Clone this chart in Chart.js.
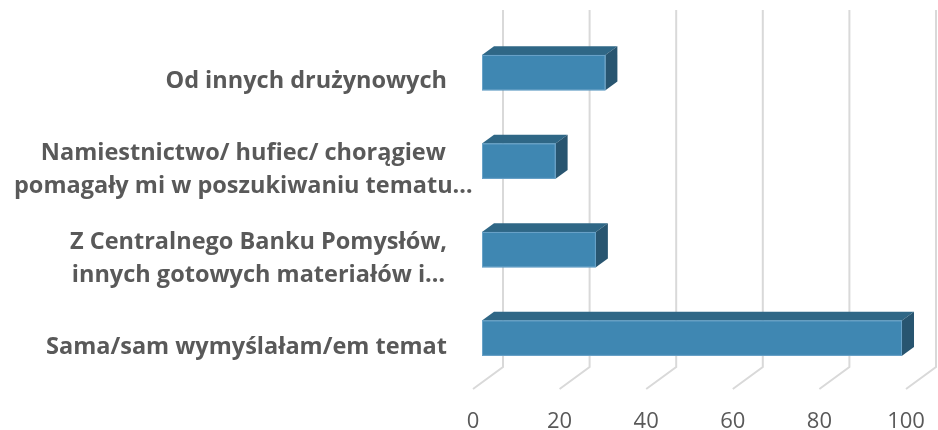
<!DOCTYPE html>
<html>
<head>
<meta charset="utf-8">
<script src="https://cdn.jsdelivr.net/npm/chart.js@4"></script>
<style>
  html, body { margin: 0; padding: 0; background: #ffffff; }
  #wrap { width: 938px; height: 430px; position: relative; }
</style>
</head>
<body>
<div id="wrap"><canvas id="chart"></canvas></div>
<script>
// Categories (top to bottom) and their values
const categories = [
  ['Od innych drużynowych'],
  ['Namiestnictwo/ hufiec/ chorągiew', 'pomagały mi w poszukiwaniu tematu…'],
  ['Z Centralnego Banku Pomysłów,', 'innych gotowych materiałów i…'],
  ['Sama/sam wymyślałam/em temat']
];
const values = [28.5, 17, 26.3, 97];
const tickValues = [0, 20, 40, 60, 80, 100];

// Oblique depth of the 3D box (front of floor -> back wall)
const DEPTH_X = 30, DEPTH_Y = -22;
const BAR_FRONT = 0.3, BAR_BACK = 0.7;

const COL_FRONT = '#3f87b2';
const COL_TOP = '#2f6786';
const COL_SIDE = '#285570';
const COL_EDGE = '#6aa3c8';
const COL_GRID = '#d9d9d9';
const TEXT = '#595959';
const LABEL_FONT = 'bold 23.5px "Open Sans", "Liberation Sans", sans-serif';

const box3d = {
  id: 'box3d',
  beforeDatasetsDraw(chart) {
    const { ctx, chartArea, scales } = chart;
    const xs = scales.x;
    ctx.save();
    ctx.strokeStyle = COL_GRID;
    ctx.lineWidth = 2;
    // back wall verticals + floor diagonals
    tickValues.forEach(v => {
      const px = xs.getPixelForValue(v);
      ctx.beginPath();
      ctx.moveTo(px + DEPTH_X, chartArea.top - 25);
      ctx.lineTo(px + DEPTH_X, chartArea.bottom + DEPTH_Y);
      ctx.lineTo(px, chartArea.bottom);
      ctx.stroke();
    });
    ctx.restore();
  },
  afterDatasetsDraw(chart) {
    const { ctx } = chart;
    const meta = chart.getDatasetMeta(0);
    const fx = DEPTH_X * BAR_FRONT, fy = DEPTH_Y * BAR_FRONT;
    const dx = DEPTH_X * (BAR_BACK - BAR_FRONT), dy = DEPTH_Y * (BAR_BACK - BAR_FRONT);
    ctx.save();
    meta.data.forEach(el => {
      const p = el.getProps(['x', 'y', 'base', 'height'], true);
      const l = p.base + fx, r = p.x + fx;
      const t = p.y - p.height / 2 + fy, b = p.y + p.height / 2 + fy;
      // top face
      ctx.fillStyle = COL_TOP;
      ctx.beginPath();
      ctx.moveTo(l, t); ctx.lineTo(l + dx, t + dy); ctx.lineTo(r + dx, t + dy); ctx.lineTo(r, t);
      ctx.closePath(); ctx.fill();
      // side face
      ctx.fillStyle = COL_SIDE;
      ctx.beginPath();
      ctx.moveTo(r, t); ctx.lineTo(r + dx, t + dy); ctx.lineTo(r + dx, b + dy); ctx.lineTo(r, b);
      ctx.closePath(); ctx.fill();
      // front face
      ctx.fillStyle = COL_FRONT;
      ctx.fillRect(l, t, r - l, b - t);
      ctx.strokeStyle = COL_EDGE;
      ctx.lineWidth = 1;
      ctx.strokeRect(l + 0.5, t + 0.5, r - l - 1, b - t - 1);
    });
    ctx.restore();
  },
  afterDraw(chart) {
    // category labels: block right-aligned, lines centred within the block
    const { ctx, scales } = chart;
    const ys = scales.y;
    ctx.save();
    ctx.font = LABEL_FONT;
    ctx.fillStyle = TEXT;
    ctx.textAlign = 'center';
    ctx.textBaseline = 'middle';
    const right = 447, minLeft = 14, lh = 33;
    categories.forEach((lines, i) => {
      const cy = ys.getPixelForValue(i) + 2.5;
      const w = Math.max(...lines.map(s => ctx.measureText(s).width));
      const cx = Math.max(right - w / 2, minLeft + w / 2);
      lines.forEach((s, j) => {
        ctx.fillText(s, cx, cy + (j - (lines.length - 1) / 2) * lh);
      });
    });
    ctx.restore();
  }
};

new Chart(document.getElementById('chart'), {
  type: 'bar',
  data: {
    labels: categories,
    datasets: [{
      data: values,
      backgroundColor: 'rgba(0,0,0,0)',
      borderWidth: 0,
      barPercentage: 0.4,
      categoryPercentage: 1
    }]
  },
  options: {
    indexAxis: 'y',
    responsive: true,
    maintainAspectRatio: false,
    animation: false,
    layout: { padding: { top: 35, right: 32, left: 0, bottom: 0 } },
    plugins: { legend: { display: false }, tooltip: { enabled: false } },
    scales: {
      x: {
        min: 0, max: 100,
        afterBuildTicks(scale) { scale.ticks = tickValues.map(v => ({ value: v })); },
        afterFit(scale) {
          scale.height = 41;
          scale.paddingLeft = 0;
          scale.paddingRight = 0;
        },
        grid: { display: false, drawTicks: false },
        border: { display: false },
        ticks: {
          padding: 20,
          color: TEXT,
          font: { family: '"Open Sans", "Liberation Sans", sans-serif', size: 22 }
        }
      },
      y: {
        afterFit(scale) { scale.width = 473; },
        grid: { display: false },
        border: { display: false },
        ticks: { display: false }
      }
    }
  },
  plugins: [box3d]
});
</script>
</body>
</html>
